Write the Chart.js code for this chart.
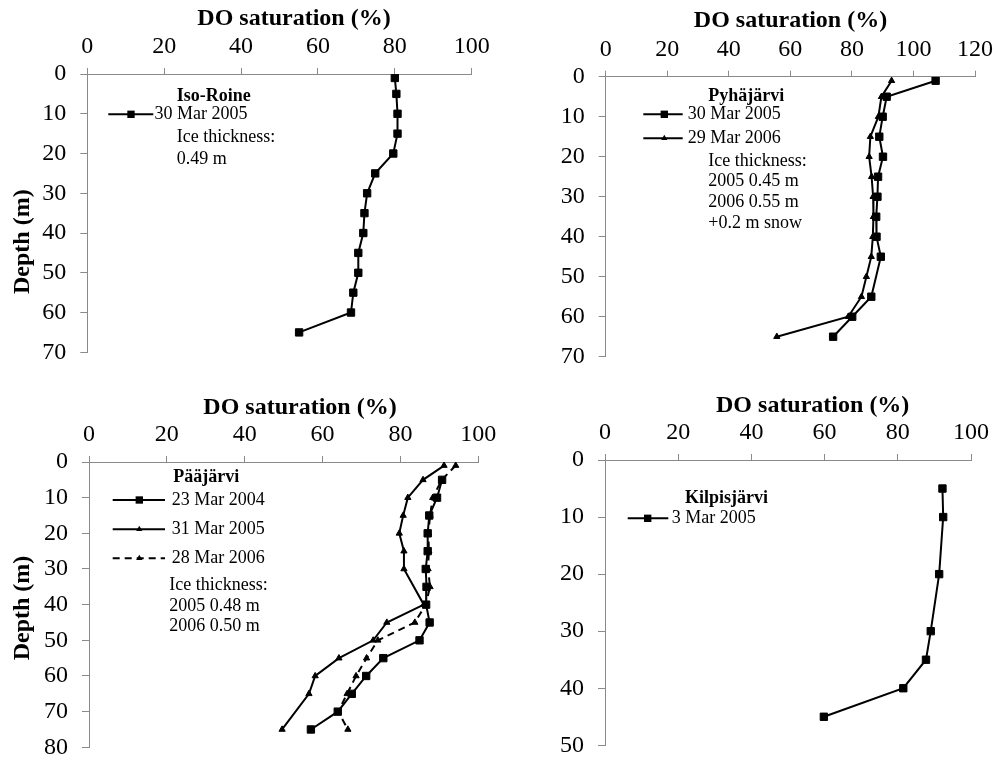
<!DOCTYPE html>
<html><head><meta charset="utf-8">
<script src="https://cdn.jsdelivr.net/npm/chart.js@4.4.0/dist/chart.umd.min.js"></script>
<style>
html,body{margin:0;padding:0;background:#fff;}
#wrap{position:relative;width:997px;height:759px;overflow:hidden;background:#fff;}
.p{position:absolute;}
canvas{display:block;}
</style></head><body>
<div id="wrap">
<div class="p" style="left:0px;top:0px"><canvas id="c1" width="500" height="380"></canvas></div>
<div class="p" style="left:500px;top:0px"><canvas id="c2" width="497" height="380"></canvas></div>
<div class="p" style="left:0px;top:380px"><canvas id="c3" width="500" height="379"></canvas></div>
<div class="p" style="left:500px;top:380px"><canvas id="c4" width="497" height="379"></canvas></div>
</div>
<script>
// ---------- DATA ----------
const xAxisTitle = 'DO saturation (%)';
const yAxisTitle = 'Depth (m)';

// Iso-Roine, 30 Mar 2005
const isoDepth = [1, 5, 10, 15, 20, 25, 30, 35, 40, 45, 50, 55, 60, 65];
const isoDO2005 = [80.0, 80.4, 80.7, 80.7, 79.6, 74.9, 72.8, 72.1, 71.8, 70.5, 70.5, 69.2, 68.6, 55.1];

// Pyhäjärvi
const pyhDepth2005 = [1, 5, 10, 15, 20, 25, 30, 35, 40, 45, 55, 60, 65];
const pyhDO2005 = [107.2, 91.3, 90.0, 88.9, 90.1, 88.5, 88.3, 87.9, 88.0, 89.4, 86.3, 80.1, 73.9];
const pyhDepth2006 = [1, 5, 10, 15, 20, 25, 30, 35, 40, 45, 50, 55, 60, 65];
const pyhDO2006 = [92.9, 89.6, 88.6, 86.0, 85.6, 86.4, 86.9, 87.0, 86.8, 86.3, 84.7, 83.1, 78.8, 55.6];

// Pääjärvi
const paaDepth2004 = [5, 10, 15, 20, 25, 30, 35, 40, 45, 50, 55, 60, 65, 70, 75];
const paaDO2004 = [90.7, 89.4, 87.4, 87.0, 87.0, 86.5, 86.7, 86.6, 87.5, 84.9, 75.6, 71.2, 67.5, 63.9, 57.0];
const paaDepth2005 = [1, 5, 10, 15, 20, 25, 30, 40, 45, 50, 55, 60, 65, 75];
const paaDO2005 = [91.2, 85.8, 81.9, 80.7, 79.7, 80.9, 80.9, 86.0, 76.5, 73.0, 64.2, 58.1, 56.5, 49.6];
const paaDepth2006 = [1, 5, 10, 15, 20, 25, 30, 35, 40, 45, 50, 55, 60, 65, 70, 75];
const paaDO2006 = [94.2, 90.6, 88.3, 87.6, 87.2, 87.3, 87.1, 87.6, 86.5, 83.7, 74.2, 71.3, 68.6, 66.3, 64.0, 66.5];

// Kilpisjärvi, 3 Mar 2005
const kilDepth = [5, 10, 20, 30, 35, 40, 45];
const kilDO2005 = [92.2, 92.4, 91.3, 89.0, 87.7, 81.5, 59.8];

// ---------- STYLE ----------
const FONT = "'Liberation Serif','Times New Roman',serif";
const AXIS = '#8a8a8a';

function pts(xs, ys) { return xs.map((d, i) => ({ x: ys[i], y: d })); }

function series(label, depth, vals, marker, dash) {
  return {
    label: label,
    data: pts(depth, vals),
    showLine: true,
    borderColor: '#000',
    backgroundColor: '#000',
    pointBackgroundColor: '#000',
    pointBorderColor: '#000',
    borderWidth: 2,
    pointBorderWidth: 1,
    borderDash: dash || [],
    pointStyle: marker,
    pointRadius: marker === 'rect' ? 5.2 : 3.6,
    tension: 0
  };
}

function drawMarker(ctx, style, x, y, r) {
  ctx.save();
  ctx.setLineDash([]);
  ctx.fillStyle = '#000';
  ctx.beginPath();
  if (style === 'rect') {
    const s = Math.SQRT1_2 * r;
    ctx.rect(x - s, y - s, 2 * s, 2 * s);
  } else {
    const rad = -Math.PI / 2;
    ctx.moveTo(x + Math.cos(rad) * r, y + Math.sin(rad) * r);
    ctx.lineTo(x + Math.cos(rad + 2 * Math.PI / 3) * r, y + Math.sin(rad + 2 * Math.PI / 3) * r);
    ctx.lineTo(x + Math.cos(rad + 4 * Math.PI / 3) * r, y + Math.sin(rad + 4 * Math.PI / 3) * r);
    ctx.closePath();
  }
  ctx.fill();
  ctx.restore();
}

const annot = {
  id: 'annot',
  afterDraw(chart, args, o) {
    const ctx = chart.ctx;
    ctx.save();
    ctx.fillStyle = '#000';
    ctx.font = 'bold 24px ' + FONT;
    ctx.textAlign = 'center';
    ctx.textBaseline = 'middle';
    ctx.fillText(xAxisTitle, o.title[0], o.title[1]);
    if (o.ylabel) {
      ctx.save();
      ctx.translate(o.ylabel[0], o.ylabel[1]);
      ctx.rotate(-Math.PI / 2);
      ctx.fillText(yAxisTitle, 0, 0);
      ctx.restore();
    }
    ctx.textAlign = 'left';
    o.legend.forEach(it => {
      if (it.kind === 'head') {
        ctx.font = 'bold 18px ' + FONT;
        ctx.fillText(it.text, it.x, it.y);
      } else if (it.kind === 'text') {
        ctx.font = '18px ' + FONT;
        ctx.fillText(it.text, it.x, it.y);
      } else {
        const ds = chart.data.datasets[it.ds];
        ctx.save();
        ctx.strokeStyle = '#000';
        ctx.lineWidth = 2;
        ctx.setLineDash(ds.borderDash || []);
        ctx.beginPath();
        ctx.moveTo(it.x1, it.y);
        ctx.lineTo(it.x2, it.y);
        ctx.stroke();
        ctx.restore();
        drawMarker(ctx, ds.pointStyle, it.m, it.y, ds.pointRadius);
        ctx.font = '18px ' + FONT;
        ctx.fillText(ds.label, it.tx, it.y);
      }
    });
    ctx.restore();
  }
};

function makeChart(id, p) {
  const c = document.getElementById(id);
  const W = c.width, H = c.height;
  return new Chart(c, {
    type: 'scatter',
    data: { datasets: p.datasets },
    plugins: [annot],
    options: {
      responsive: false,
      animation: false,
      events: [],
      layout: { padding: { left: 0, top: 0, right: W - p.area.r, bottom: H - p.area.b } },
      plugins: {
        legend: { display: false },
        tooltip: { enabled: false },
        annot: { title: p.title, ylabel: p.ylabel, legend: p.legend }
      },
      scales: {
        x: {
          type: 'linear',
          position: 'top',
          min: 0, max: p.xMax,
          ticks: { stepSize: 20, color: '#000', font: { family: FONT, size: 24 }, padding: 7 },
          grid: { drawOnChartArea: false, drawTicks: true, tickLength: 6, color: AXIS, lineWidth: 1 },
          border: { display: true, color: AXIS, width: 1 },
          afterFit(s) { s.height = p.area.t; s.paddingLeft = 0; s.paddingRight = 0; }
        },
        y: {
          type: 'linear',
          position: 'left',
          reverse: true,
          min: 0, max: p.yMax,
          ticks: { stepSize: 10, color: '#000', font: { family: FONT, size: 24 }, padding: 14 },
          grid: { drawOnChartArea: false, drawTicks: true, tickLength: 7, color: AXIS, lineWidth: 1 },
          border: { display: true, color: AXIS, width: 1 },
          afterFit(s) { s.width = p.area.l; s.paddingTop = 0; s.paddingBottom = 0; }
        }
      }
    }
  });
}

makeChart('c1', {
  area: { l: 87.3, t: 74, r: 471.7, b: 352.3 },
  xMax: 100, yMax: 70,
  title: [294, 18.5], ylabel: [23, 241.7],
  datasets: [series('30 Mar 2005', isoDepth, isoDO2005, 'rect')],
  legend: [
    { kind: 'head', text: 'Iso-Roine', x: 176.7, y: 96 },
    { kind: 'series', ds: 0, x1: 108.3, x2: 153.3, m: 131, tx: 154.5, y: 114.3 },
    { kind: 'text', text: 'Ice thickness:', x: 176.7, y: 137.7 },
    { kind: 'text', text: '0.49 m', x: 176.7, y: 159.3 }
  ]
});

makeChart('c2', {
  area: { l: 105.7, t: 76.7, r: 475, b: 356.7 },
  xMax: 120, yMax: 70,
  title: [290.5, 21], ylabel: null,
  datasets: [
    series('30 Mar 2005', pyhDepth2005, pyhDO2005, 'rect'),
    series('29 Mar 2006', pyhDepth2006, pyhDO2006, 'triangle')
  ],
  legend: [
    { kind: 'head', text: 'Pyhäjärvi', x: 208.3, y: 96.7 },
    { kind: 'series', ds: 0, x1: 143.3, x2: 182.7, m: 164.3, tx: 187.7, y: 114.3 },
    { kind: 'series', ds: 1, x1: 143.3, x2: 182.7, m: 164.3, tx: 187.7, y: 138.3 },
    { kind: 'text', text: 'Ice thickness:', x: 208.3, y: 161 },
    { kind: 'text', text: '2005 0.45 m', x: 208.3, y: 181.7 },
    { kind: 'text', text: '2006 0.55 m', x: 208.3, y: 202.7 },
    { kind: 'text', text: '+0.2 m snow', x: 208.3, y: 223.3 }
  ]
});

makeChart('c3', {
  area: { l: 89, t: 82, r: 478.3, b: 367.3 },
  xMax: 100, yMax: 80,
  title: [300, 27.5], ylabel: [23, 228],
  datasets: [
    series('23 Mar 2004', paaDepth2004, paaDO2004, 'rect'),
    series('31 Mar 2005', paaDepth2005, paaDO2005, 'triangle'),
    series('28 Mar 2006', paaDepth2006, paaDO2006, 'triangle', [7, 5])
  ],
  legend: [
    { kind: 'head', text: 'Pääjärvi', x: 173.3, y: 97.3 },
    { kind: 'series', ds: 0, x1: 112.7, x2: 165, m: 139.3, tx: 171.7, y: 120 },
    { kind: 'series', ds: 1, x1: 112.7, x2: 165, m: 139.3, tx: 171.7, y: 149.3 },
    { kind: 'series', ds: 2, x1: 112.7, x2: 165, m: 139.3, tx: 171.7, y: 178.3 },
    { kind: 'text', text: 'Ice thickness:', x: 169.3, y: 205 },
    { kind: 'text', text: '2005 0.48 m', x: 169.3, y: 226 },
    { kind: 'text', text: '2006 0.50 m', x: 169.3, y: 246.7 }
  ]
});

makeChart('c4', {
  area: { l: 105, t: 80, r: 471, b: 365.3 },
  xMax: 100, yMax: 50,
  title: [312.7, 25.5], ylabel: null,
  datasets: [series('3 Mar 2005', kilDepth, kilDO2005, 'rect')],
  legend: [
    { kind: 'head', text: 'Kilpisjärvi', x: 185, y: 118.3 },
    { kind: 'series', ds: 0, x1: 127.7, x2: 168.3, m: 147.7, tx: 171.7, y: 138.3 }
  ]
});
</script>
</body></html>
